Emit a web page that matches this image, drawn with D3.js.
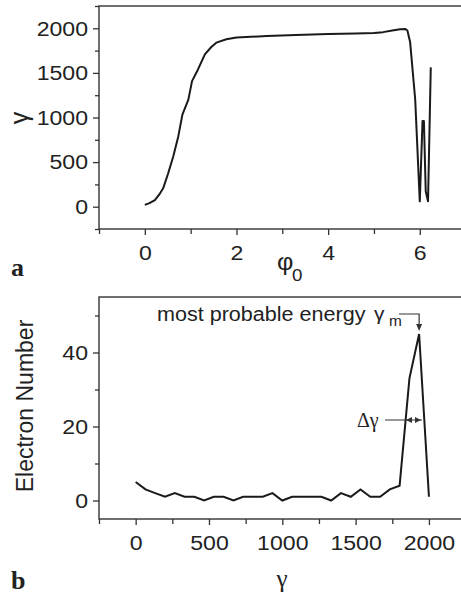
<!DOCTYPE html>
<html>
<head>
<meta charset="utf-8">
<script src="https://cdn.jsdelivr.net/npm/d3@7"></script>
<style>
  body { margin: 0; background: #fff; }
  text { font-family: "Liberation Sans", Arial, sans-serif; fill: #222; }
  .serif { font-family: "Liberation Serif", "Times New Roman", serif; }
</style>
</head>
<body>
<svg></svg>
<script>
// panel a: final energy vs injection phase
const phi0 = [0, 0.1, 0.22, 0.32, 0.4, 0.51, 0.62, 0.73, 0.82, 0.95, 1.03, 1.16, 1.31, 1.45, 1.56, 1.78,
  2.0, 2.66, 3.3, 4.0, 4.6, 5.0, 5.2, 5.4, 5.57, 5.68, 5.73, 5.79, 5.9, 6.0, 6.06, 6.09, 6.13, 6.18, 6.24];
const gammaA = [20, 40, 75, 140, 206, 375, 563, 788, 1032, 1201, 1408, 1539, 1708, 1790, 1839, 1877,
  1896, 1914, 1925, 1935, 1942, 1947, 1957, 1975, 1990, 1993, 1975, 1843, 1205, 60, 961, 961, 172, 60, 1562];

// panel b: energy spectrum
const gammaBins = [0, 67, 133, 200, 267, 333, 400, 467, 533, 600, 667, 733, 800, 867, 933, 1000,
  1067, 1133, 1200, 1267, 1333, 1400, 1467, 1533, 1600, 1667, 1733, 1800, 1867, 1933, 2000];
const electronCount = [5, 3, 2, 1, 2, 1, 1, 0, 1, 1, 0, 1, 1, 1, 2, 0,
  1, 1, 1, 1, 0, 2, 1, 3, 1, 1, 3, 4, 33, 45, 1];

const xTicksA = [0, 2, 4, 6];
const xMinorA = [-1, 1, 3, 5, 7];
const yTicksA = [0, 500, 1000, 1500, 2000];
const yMinorA = [-250, 250, 750, 1250, 1750, 2250];
const xTicksB = [0, 500, 1000, 1500, 2000];
const xMinorB = [-250, 250, 750, 1250, 1750, 2250];
const yTicksB = [0, 20, 40];
const yMinorB = [10, 30, 50];

const width = 461;
const height = 596;
const svg = d3.select('svg').attr('width', width).attr('height', height);

const axisColor = '#333';
const fs = 21;
const stretch = 1.1; // the original lettering is a little wide

function frame(x, y) {
  const [x0, x1] = x.range();
  const [y0, y1] = y.range();
  svg.append('rect')
    .attr('x', x0).attr('y', y1)
    .attr('width', x1 - x0).attr('height', y0 - y1)
    .attr('fill', 'none').attr('stroke', axisColor).attr('stroke-width', 1.4);
}

function axes(x, y, xt, xm, yt, ym) {
  const bottom = y.range()[0];
  const left = x.range()[0];
  const gx = svg.append('g').attr('transform', 'translate(0,' + bottom + ')');
  gx.call(d3.axisBottom(x).tickValues(xt).tickSize(6).tickPadding(10).tickFormat(d3.format('d')));
  gx.append('g').call(d3.axisBottom(x).tickValues(xm).tickSize(5).tickFormat(''));
  const gy = svg.append('g').attr('transform', 'translate(' + left + ',0)');
  gy.call(d3.axisLeft(y).tickValues(yt).tickSize(6).tickPadding(4).tickFormat(d3.format('d')));
  gy.append('g').call(d3.axisLeft(y).tickValues(ym).tickSize(4).tickFormat(''));
  svg.selectAll('.domain').remove();
  svg.selectAll('.tick line').attr('stroke', axisColor).attr('stroke-width', 1.3);
  svg.selectAll('.tick text').attr('font-size', fs).attr('fill', '#222')
    .attr('font-family', '"Liberation Sans", Arial, sans-serif')
    .attr('transform', 'scale(' + stretch + ',1)');
}

function label(x, y, str, size, cls) {
  return svg.append('text').attr('class', cls || null)
    .attr('transform', 'translate(' + x + ',' + y + ') scale(' + stretch + ',1)')
    .attr('font-size', size).text(str);
}

// ---- panel a ----
const xA = d3.scaleLinear().domain([-1, 7]).range([99, 465.6]);
const yA = d3.scaleLinear().domain([-250, 2250]).range([229, 6]);
axes(xA, yA, xTicksA, xMinorA, yTicksA, yMinorA);
frame(xA, yA);

svg.append('path')
  .datum(phi0.map((p, i) => [p, gammaA[i]]))
  .attr('fill', 'none').attr('stroke', '#1a1a1a').attr('stroke-width', 2)
  .attr('stroke-linejoin', 'round')
  .attr('d', d3.line().x(d => xA(d[0])).y(d => yA(d[1])));

svg.append('text').attr('transform', 'translate(28,118) rotate(-90)')
  .attr('text-anchor', 'middle').attr('font-size', 25).text('γ');
label(277, 270, 'φ', 23);
label(292, 281, '0', 17);
svg.append('text').attr('class', 'serif').attr('x', 11).attr('y', 276)
  .attr('font-size', 26).attr('font-weight', 'bold').text('a');

// ---- panel b ----
const xB = d3.scaleLinear().domain([-250, 2250]).range([99, 465.6]);
const yB = d3.scaleLinear().domain([-5, 55]).range([519, 297]);
axes(xB, yB, xTicksB, xMinorB, yTicksB, yMinorB);
frame(xB, yB);

svg.append('path')
  .datum(gammaBins.map((g, i) => [g, electronCount[i]]))
  .attr('fill', 'none').attr('stroke', '#1a1a1a').attr('stroke-width', 2)
  .attr('stroke-linejoin', 'miter')
  .attr('d', d3.line().x(d => xB(d[0])).y(d => yB(d[1])));

svg.append('text').attr('transform', 'translate(33,406) rotate(-90)')
  .attr('text-anchor', 'middle').attr('font-size', 23).text('Electron Number');
svg.append('text').attr('class', 'serif').attr('x', 282).attr('y', 587)
  .attr('text-anchor', 'middle').attr('font-size', 25).text('γ');
svg.append('text').attr('class', 'serif').attr('x', 11).attr('y', 589)
  .attr('font-size', 26).attr('font-weight', 'bold').text('b');

// most probable energy annotation
const peakX = xB(1933);
const peakY = yB(45);
label(157, 321, 'most probable energy', 19.6);
label(374, 320, 'γ', 19);
label(389, 326, 'm', 14);
svg.append('path')
  .attr('d', 'M399,314H' + peakX + 'V' + (peakY - 9))
  .attr('fill', 'none').attr('stroke', '#333').attr('stroke-width', 1.2);
svg.append('path')
  .attr('d', 'M' + (peakX - 3) + ',' + (peakY - 10) + 'L' + (peakX + 3) + ',' + (peakY - 10) +
    'L' + peakX + ',' + (peakY - 3) + 'Z')
  .attr('fill', '#333');

// delta gamma annotation
const dy = 420;
svg.append('text').attr('class', 'serif').attr('x', 357).attr('y', 427).attr('font-size', 20).text('Δγ');
svg.append('line').attr('x1', 385).attr('x2', 422).attr('y1', dy).attr('y2', dy)
  .attr('stroke', '#333').attr('stroke-width', 1.2);
svg.append('path')
  .attr('d', 'M406,' + dy + 'L412,' + (dy - 3) + 'L412,' + (dy + 3) + 'Z' +
    'M421,' + dy + 'L415,' + (dy - 3) + 'L415,' + (dy + 3) + 'Z')
  .attr('fill', '#333');
</script>
</body>
</html>
